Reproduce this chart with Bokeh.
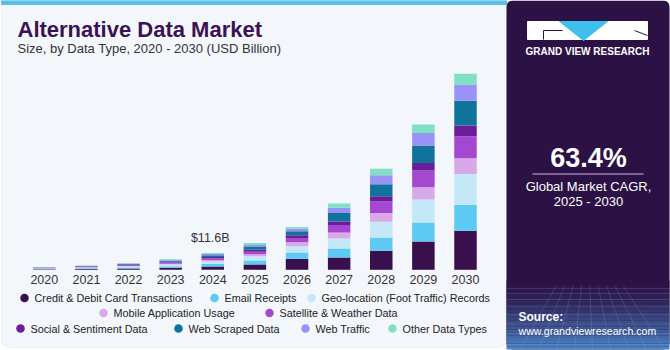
from bokeh.plotting import figure
from bokeh.models import Range1d, BoxAnnotation, ColumnDataSource
from bokeh.core.properties import value
from bokeh.embed import file_html
from bokeh.resources import INLINE

# ---------------- data (USD billion) ----------------
years = [2020, 2021, 2022, 2023, 2024, 2025, 2026, 2027, 2028, 2029, 2030]
credit_debit = [0.38, 0.60, 0.92, 1.46, 2.30, 3.70, 7.60, 8.50, 13.1, 19.6, 27.0]
email_receipts = [0.27, 0.43, 0.66, 1.05, 1.70, 2.80, 4.40, 6.20, 9.20, 13.1, 17.8]
geolocation = [0.30, 0.47, 0.72, 1.14, 1.80, 2.80, 4.20, 6.90, 10.9, 15.9, 21.5]
mobile_app = [0.15, 0.24, 0.36, 0.57, 0.90, 1.40, 2.80, 4.20, 6.00, 8.50, 10.8]
satellite_weather = [0.20, 0.33, 0.50, 0.80, 1.30, 1.80, 3.00, 5.10, 8.00, 11.6, 15.2]
social_sentiment = [0.13, 0.20, 0.31, 0.50, 0.80, 1.40, 1.80, 2.50, 3.70, 5.10, 7.40]
web_scraped = [0.20, 0.31, 0.48, 0.76, 1.20, 1.80, 2.80, 5.80, 8.30, 12.2, 17.1]
web_traffic = [0.15, 0.23, 0.37, 0.57, 0.90, 1.40, 1.80, 3.70, 6.20, 8.50, 11.3]
other_types = [0.12, 0.19, 0.28, 0.45, 0.70, 1.40, 1.20, 3.00, 4.40, 6.00, 7.40]

series_names = ["Credit & Debit Card Transactions", "Email Receipts",
                "Geo-location (Foot Traffic) Records", "Mobile Application Usage",
                "Satellite & Weather Data", "Social & Sentiment Data",
                "Web Scraped Data", "Web Traffic", "Other Data Types"]
series_values = [credit_debit, email_receipts, geolocation, mobile_app,
                 satellite_weather, social_sentiment, web_scraped, web_traffic, other_types]
series_colors = ["#3a0f4e", "#5ccaf2", "#c4e8f7", "#d8a9e6", "#a448d2",
                 "#6b1c98", "#10739a", "#9a93f6", "#7fe0c4"]

highlight_year = 2024
cagr_text = "63.4%"

FONT = "Liberation Sans"

# ---------------- figure ----------------
p = figure(width=670, height=350, x_range=Range1d(0, 670), y_range=Range1d(350, 0),
           x_axis_type=None, y_axis_type=None, toolbar_location=None,
           output_backend="svg", min_border=0, outline_line_color=None,
           background_fill_color="white", border_fill_color="white")
p.extra_x_ranges = {"yr": Range1d(2018.96, 2034.867)}
p.extra_y_ranges = {"val": Range1d(-55.79, 186.17)}

# card
p.add_layout(BoxAnnotation(left=1, right=506, top=1, bottom=347, fill_color="#f3f7fb",
                           fill_alpha=1, line_color="#d6dce4", line_width=1,
                           border_radius=8, level="underlay"))
p.quad(left=[1], right=[506], top=[0], bottom=[4], color="#5bbfe9")

# right panel
p.add_layout(BoxAnnotation(left=506, right=669, top=0, bottom=349, fill_color="#2c1145",
                           fill_alpha=1, line_color=None, border_radius=6, level="underlay"))


def mix(c1, c2, t):
    a = [int(c1[i:i + 2], 16) for i in (1, 3, 5)]
    b = [int(c2[i:i + 2], 16) for i in (1, 3, 5)]
    return "#%02x%02x%02x" % tuple(int(round(a[k] + (b[k] - a[k]) * t)) for k in range(3))


n = 24
g_top, g_bot = 280.0, 349.0
tops = [g_top + (g_bot - g_top) * i / n for i in range(n)]
bots = [g_top + (g_bot - g_top) * (i + 1) / n for i in range(n)]
cols = [mix("#2c1145", "#4a86c8", ((i + 0.5) / n) ** 1.4) for i in range(n)]
p.quad(left=[506] * n, right=[669] * n, top=tops, bottom=bots, color=cols, line_width=0)

# perspective grid
hy = [288, 293, 299, 306, 314, 323, 333, 344]
p.segment(x0=[506] * len(hy), x1=[669] * len(hy), y0=hy, y1=hy, line_color="#9cc4f0",
          line_alpha=0.22, line_width=0.8)
vx, vy = 587.0, 230.0
bx = [430 + 18 * i for i in range(18)]
sx0, sy0, sx1, sy1 = [], [], [], []
for b in bx:
    xt = vx + (b - vx) * (285 - vy) / (349 - vy)
    if 506 <= b <= 669 and 506 <= xt <= 669:
        sx0.append(xt); sy0.append(285); sx1.append(b); sy1.append(349)
p.segment(x0=sx0, y0=sy0, x1=sx1, y1=sy1, line_color="#9cc4f0", line_alpha=0.22, line_width=0.8)

# logo
p.quad(left=[527], right=[647], top=[21], bottom=[39], color="white")
p.patch(x=[559, 607, 583], y=[21, 21, 40], color="#3fc0ec")
p.line(x=[543, 543, 562], y=[39, 30, 30], line_color="#2c1145", line_width=1)
p.line(x=[634, 647], y=[30, 35], line_color="#2c1145", line_width=1)
p.text(x=[587], y=[51], text=["GRAND VIEW RESEARCH"], text_align="center",
       text_baseline="middle", text_font=value(FONT), text_font_style="bold",
       text_font_size="10px", text_color="white")

# CAGR
p.text(x=[588], y=[157], text=[cagr_text], text_align="center", text_baseline="middle",
       text_font=value(FONT), text_font_style="bold", text_font_size="27px", text_color="white")
p.segment(x0=[532], x1=[643], y0=[173.5], y1=[173.5], line_color="#cdb8e8", line_width=1)
p.text(x=[588, 588], y=[186, 201], text=["Global Market CAGR,", "2025 - 2030"],
       text_align="center", text_baseline="middle", text_font=value(FONT),
       text_font_size="13px", text_color="white")

# source
p.text(x=[518], y=[316], text=["Source:"], text_baseline="middle", text_font=value(FONT),
       text_font_style="bold", text_font_size="12px", text_color="white")
p.text(x=[518], y=[330], text=["www.grandviewresearch.com"], text_baseline="middle",
       text_font=value(FONT), text_font_size="10.6px", text_color="white")

# title
p.text(x=[17], y=[29], text=["Alternative Data Market"], text_baseline="middle",
       text_font=value(FONT), text_font_style="bold", text_font_size="22px", text_color="#3b1253")
p.text(x=[17], y=[48], text=["Size, by Data Type, 2020 - 2030 (USD Billion)"],
       text_baseline="middle", text_font=value(FONT), text_font_size="13px", text_color="#333333")

# bars
keys = ["s%d" % i for i in range(len(series_values))]
data = {"year": years}
for k, v in zip(keys, series_values):
    data[k] = v
src = ColumnDataSource(data)
p.vbar_stack(keys, x="year", width=0.534, color=series_colors, source=src,
             x_range_name="yr", y_range_name="val", line_width=0)

# year labels
p.text(x=years, y=[0] * len(years), text=[str(y) for y in years], x_range_name="yr",
       y_range_name="val", y_offset=10, text_align="center", text_baseline="middle",
       text_font=value(FONT), text_font_size="12.5px", text_color="#333333")

# highlight label
hi = years.index(highlight_year)
total_hi = sum(s[hi] for s in series_values)
p.text(x=[highlight_year - 0.06], y=[total_hi], text=["$%.1fB" % total_hi], x_range_name="yr",
       y_range_name="val", y_offset=-8, text_align="center", text_baseline="bottom",
       text_font=value(FONT), text_font_size="12.5px", text_color="#333333")

# legend
legend_rows = [
    (297.5, [(24, 0), (214, 1), (311, 2)]),
    (312.5, [(103, 3), (269, 4)]),
    (328.0, [(20, 5), (178, 6), (305, 7), (392, 8)]),
]
lx, ly, lc, tx, tt = [], [], [], [], []
for yy, items in legend_rows:
    for cx, idx in items:
        lx.append(cx); ly.append(yy); lc.append(series_colors[idx])
        tx.append(cx + 10); tt.append(series_names[idx])
p.scatter(x=lx, y=ly, size=8.5, marker="circle", fill_color=lc, line_color=None)
p.text(x=tx, y=ly, text=tt, text_baseline="middle", text_font=value(FONT),
       text_font_size="10.8px", text_color="#222222")

open("out.html", "w").write(file_html(p, INLINE))
